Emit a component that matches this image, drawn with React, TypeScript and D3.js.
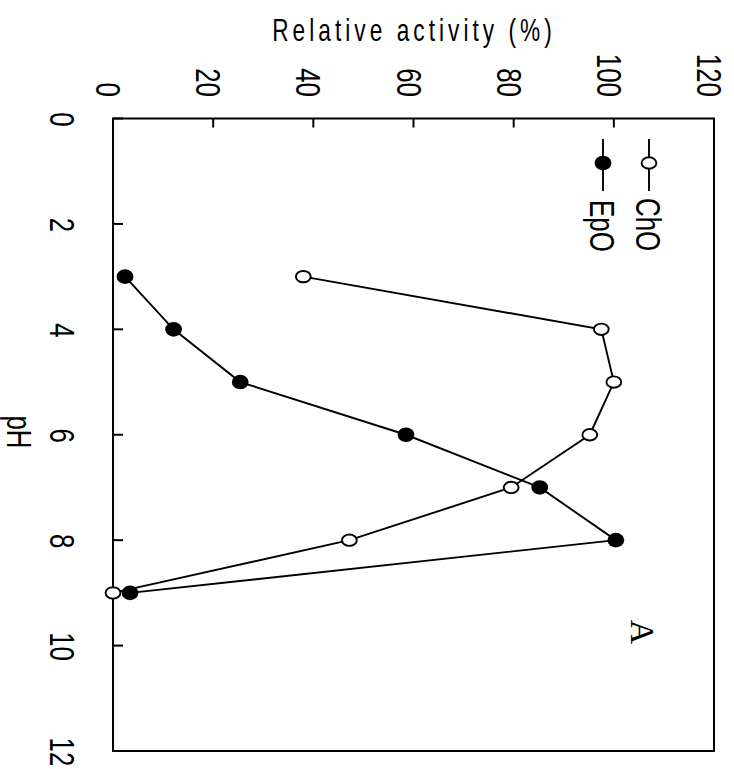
import React from "react";
import * as d3 from "d3";

// pH values measured for both enzymes
const phValues = [3, 4, 5, 6, 7, 8, 9];
// Relative activity (%) per pH
const choActivity = [38, 97.5, 100, 95.2, 79.5, 47.2, 0];
const epoActivity = [2.4, 12.1, 25.4, 58.5, 85.2, 100.4, 3.4];

const activityTicks = [0, 20, 40, 60, 80, 100, 120];
const phTicks = [0, 2, 4, 6, 8, 10, 12];

const seriesNames = ["ChO", "EpO"];

const W = 734;
const H = 769;
const SANS = "'Liberation Sans', Arial, sans-serif";
const SERIF = "'Liberation Serif', 'Times New Roman', serif";

export default function App() {
  // Figure is laid out turned a quarter turn clockwise:
  // activity runs left→right along the top, pH runs top→bottom on the left.
  const xAct = d3.scaleLinear().domain([0, 120]).range([113, 714]);
  const yPh = d3.scaleLinear().domain([0, 12]).range([118.5, 751]);

  const line = d3
    .line<[number, number]>()
    .x((d) => xAct(d[1]))
    .y((d) => yPh(d[0]));

  const choPts: [number, number][] = phValues.map((p, i) => [p, choActivity[i]]);
  const epoPts: [number, number][] = phValues.map((p, i) => [p, epoActivity[i]]);

  const [x0, x1] = xAct.range();
  const [y0, y1] = yPh.range();
  const tickLen = 9;

  const rotText = (
    x: number,
    y: number,
    txt: string,
    anchor: "start" | "middle" | "end",
    size = 34.5,
    sx = 0.75,
    family = SANS
  ) => (
    <text
      key={`${txt}-${x}-${y}`}
      transform={`translate(${x},${y}) rotate(90) scale(${sx},1)`}
      textAnchor={anchor}
      fontFamily={family}
      fontSize={size}
      fill="#000"
    >
      {txt}
    </text>
  );

  return (
    <svg
      width={W}
      height={H}
      viewBox={`0 0 ${W} ${H}`}
      style={{ position: "absolute", left: 0, top: 0, background: "#fff" }}
    >
      <rect x={0} y={0} width={W} height={H} fill="#fff" />

      {/* axis title for activity */}
      <text
        transform={`translate(414,40.5) scale(0.72,1)`}
        textAnchor="middle"
        fontFamily={SANS}
        fontSize={31.5}
        letterSpacing={5.6}
        fill="#000"
      >
        Relative activity (%)
      </text>

      {/* pH axis title */}
      {rotText(7, 432, "pH", "middle")}

      {/* frame */}
      <rect
        x={x0}
        y={y0}
        width={x1 - x0}
        height={y1 - y0}
        fill="none"
        stroke="#000"
        strokeWidth={2}
      />

      {/* activity ticks (top edge, inward) */}
      {activityTicks.map((v) => (
        <g key={`at${v}`}>
          <line
            x1={xAct(v)}
            x2={xAct(v)}
            y1={y0}
            y2={y0 + tickLen}
            stroke="#000"
            strokeWidth={2}
          />
          {rotText(xAct(v) - 17, 97, String(v), "end")}
        </g>
      ))}

      {/* pH ticks (left edge, inward) */}
      {phTicks.map((v) => (
        <g key={`pt${v}`}>
          <line
            x1={x0}
            x2={x0 + tickLen + 1}
            y1={yPh(v)}
            y2={yPh(v)}
            stroke="#000"
            strokeWidth={2}
          />
          {rotText(50, yPh(v) + 1, String(v), "middle")}
        </g>
      ))}

      {/* EpO series */}
      <path d={line(epoPts) ?? ""} fill="none" stroke="#000" strokeWidth={1.9} />
      {epoPts.map((d, i) => (
        <ellipse
          key={`e${i}`}
          cx={xAct(d[1])}
          cy={yPh(d[0])}
          rx={8.4}
          ry={7.3}
          fill="#000"
        />
      ))}

      {/* ChO series */}
      <path d={line(choPts) ?? ""} fill="none" stroke="#000" strokeWidth={1.9} />
      {choPts.map((d, i) => (
        <ellipse
          key={`c${i}`}
          cx={xAct(d[1])}
          cy={yPh(d[0])}
          rx={7.4}
          ry={5.7}
          fill="#fff"
          stroke="#000"
          strokeWidth={1.9}
        />
      ))}

      {/* legend */}
      <g>
        <line x1={649} x2={649} y1={139} y2={191} stroke="#000" strokeWidth={1.9} />
        <ellipse cx={649} cy={163} rx={7.4} ry={5.7} fill="#fff" stroke="#000" strokeWidth={1.9} />
        {rotText(636, 198, seriesNames[0], "start")}
        <line x1={603} x2={603} y1={139} y2={191} stroke="#000" strokeWidth={1.9} />
        <ellipse cx={603} cy={163} rx={8.4} ry={7.3} fill="#000" />
        {rotText(590, 200, seriesNames[1], "start")}
      </g>

      {/* panel letter */}
      {rotText(631, 632, "A", "middle", 34, 1, SERIF)}
    </svg>
  );
}
